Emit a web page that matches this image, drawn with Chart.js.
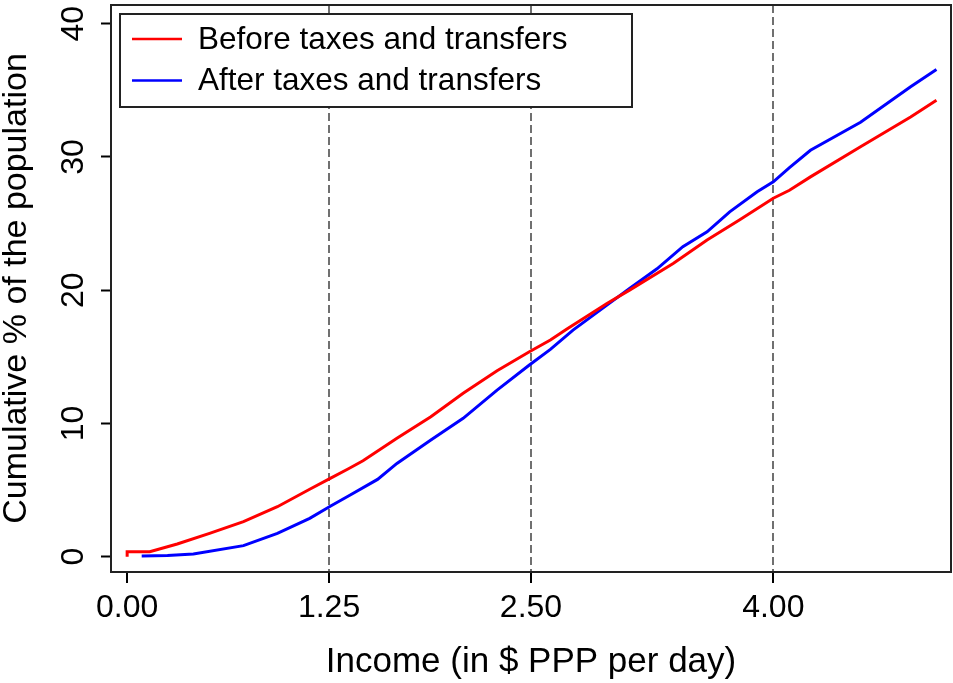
<!DOCTYPE html>
<html>
<head>
<meta charset="utf-8">
<script src="https://cdn.jsdelivr.net/npm/chart.js@4/dist/chart.umd.min.js"></script>
<style>
  body { margin: 0; background: #fff; }
  canvas { display: block; }
</style>
</head>
<body>
<canvas id="cdf-chart" width="953" height="683"></canvas>
<script>
// values
const incomeBefore = [0, 0, 0.14, 0.31, 0.51, 0.72, 0.93, 1.13, 1.26, 1.37, 1.46, 1.67, 1.88, 2.08, 2.29, 2.49, 2.62, 2.72, 2.97, 3.11, 3.38, 3.59, 3.79, 4.00, 4.10, 4.23, 4.54, 4.85, 5.01];
const shareBefore = [0, 0.37, 0.37, 0.95, 1.75, 2.63, 3.75, 5.06, 5.9, 6.6, 7.2, 8.88, 10.5, 12.26, 13.95, 15.38, 16.26, 17.06, 19.0, 20.0, 22.0, 23.76, 25.26, 26.9, 27.5, 28.5, 30.76, 33.0, 34.26];
const incomeAfter = [0.09, 0.25, 0.41, 0.72, 0.93, 1.13, 1.26, 1.37, 1.55, 1.67, 1.88, 2.08, 2.29, 2.49, 2.62, 2.76, 2.97, 3.11, 3.28, 3.44, 3.59, 3.73, 3.90, 4.00, 4.10, 4.23, 4.54, 4.85, 5.01];
const shareAfter = [0.05, 0.08, 0.2, 0.83, 1.75, 2.88, 3.8, 4.55, 5.8, 7.0, 8.75, 10.38, 12.5, 14.38, 15.56, 17.0, 18.88, 20.13, 21.6, 23.26, 24.38, 25.88, 27.38, 28.13, 29.2, 30.5, 32.6, 35.26, 36.56];
const xTicks = [0, 1.25, 2.5, 4];
const yTicks = [0, 10, 20, 30, 40];
const seriesLabels = ['Before taxes and transfers', 'After taxes and transfers'];
const seriesColors = ['#ff0000', '#0000ff'];

const FONT = "'Liberation Sans', Arial, sans-serif";

const toPoints = (xs, ys) => xs.map((x, i) => ({ x: x, y: ys[i] }));

// frame round the plot + boxed legend in the top left corner
const framePlugin = {
    id: 'frame',
    afterDraw(chart) {
        const { ctx, chartArea: a } = chart;
        ctx.save();
        ctx.strokeStyle = '#222';
        ctx.lineWidth = 2;
        ctx.strokeRect(a.left, a.top, a.right - a.left, a.bottom - a.top);

        const bx = a.left + 9, by = a.top + 9, bw = 512, bh = 93;
        ctx.fillStyle = '#fff';
        ctx.fillRect(bx, by, bw, bh);
        ctx.strokeStyle = '#222';
        ctx.strokeRect(bx, by, bw, bh);
        ctx.font = '31.5px ' + FONT;
        ctx.textBaseline = 'middle';
        chart.data.datasets.forEach((ds, i) => {
            const y = by + 25 + i * 41.5;
            ctx.strokeStyle = ds.borderColor;
            ctx.lineWidth = 2.5;
            ctx.beginPath();
            ctx.moveTo(bx + 12, y);
            ctx.lineTo(bx + 62, y);
            ctx.stroke();
            ctx.fillStyle = '#000';
            ctx.fillText(ds.label, bx + 78, y + 1);
        });
        ctx.restore();
    }
};

const ctx = document.getElementById('cdf-chart').getContext('2d');
const cdfChart = new Chart(ctx, {
    type: 'line',
    data: {
        datasets: [{
            label: seriesLabels[0],
            data: toPoints(incomeBefore, shareBefore),
            borderColor: seriesColors[0],
            borderWidth: 3,
            pointRadius: 0,
            tension: 0
        }, {
            label: seriesLabels[1],
            data: toPoints(incomeAfter, shareAfter),
            borderColor: seriesColors[1],
            borderWidth: 3,
            pointRadius: 0,
            tension: 0
        }]
    },
    options: {
        responsive: false,
        animation: false,
        layout: { padding: { top: 5, right: 2, left: 0, bottom: 0 } },
        plugins: {
            legend: { display: false },
            tooltip: { enabled: false }
        },
        scales: {
            x: {
                type: 'linear',
                min: -0.1,
                max: 5.1,
                afterBuildTicks: (scale) => { scale.ticks = xTicks.map(v => ({ value: v })); },
                afterFit: (scale) => {
                    scale.height = 111;
                    scale.paddingLeft = 0;
                    scale.paddingRight = 0;
                },
                ticks: {
                    color: '#000',
                    padding: 6,
                    maxRotation: 0,
                    font: { family: FONT, size: 32, lineHeight: 1.2 },
                    callback: (v) => Number(v).toFixed(2)
                },
                grid: {
                    color: (c) => (c.tick && c.tick.value === 0 ? 'rgba(0,0,0,0)' : '#707070'),
                    lineWidth: 2,
                    tickLength: 11,
                    tickColor: '#000',
                    tickWidth: 2
                },
                border: { display: true, color: '#000', width: 2, dash: [8, 4] },
                title: {
                    display: true,
                    text: 'Income (in $ PPP per day)',
                    color: '#000',
                    font: { family: FONT, size: 35, lineHeight: 1 },
                    padding: { top: 0, bottom: 3 }
                }
            },
            y: {
                min: -1.15,
                max: 41.4,
                afterBuildTicks: (scale) => { scale.ticks = yTicks.map(v => ({ value: v })); },
                afterFit: (scale) => {
                    scale.width = 111;
                    scale.paddingTop = 0;
                    scale.paddingBottom = 0;
                },
                ticks: {
                    color: '#000',
                    padding: 9,
                    minRotation: 90,
                    maxRotation: 90,
                    crossAlign: 'center',
                    font: { family: FONT, size: 32, lineHeight: 1.2 },
                    callback: (v) => String(v)
                },
                grid: {
                    drawOnChartArea: false,
                    tickLength: 10,
                    tickColor: '#000',
                    tickWidth: 2
                },
                border: { display: true, color: '#000', width: 2 },
                title: {
                    display: true,
                    text: 'Cumulative % of the population',
                    color: '#000',
                    font: { family: FONT, size: 34, lineHeight: 1 },
                    padding: { top: 0, bottom: 0 }
                }
            }
        }
    },
    plugins: [framePlugin]
});
</script>
</body>
</html>
